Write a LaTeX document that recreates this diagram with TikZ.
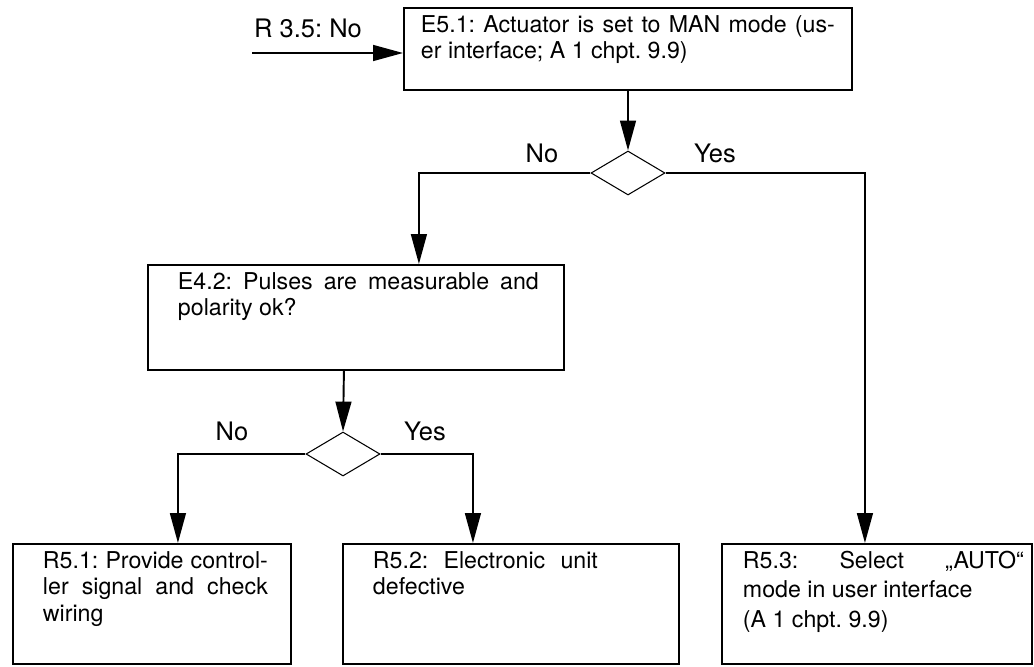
\documentclass[tikz,border=0pt]{standalone}
\usepackage{fontspec}
\setmainfont{TeX Gyre Heros}
\usepackage{tikz}
\usetikzlibrary{arrows.meta,positioning,calc,shapes.geometric}
\hyphenpenalty=10000
\frenchspacing
% text inside a box: box width, box height, left margin, text width, text
\newcommand{\boxpar}[5]{%
  \parbox[c][#2][t]{#1}{\vspace*{3pt}\hspace*{#3}\parbox[t]{#4}{\strut#5}}}
\tikzset{
  every picture/.style={x=0.02cm,y=-0.02cm},
  flowbox/.style={draw,line width=1.1pt,inner sep=0pt,anchor=north west,
    font=\fontsize{13.2}{15.3}\selectfont},
  decide/.style={draw,diamond,line width=0.6pt,inner sep=0pt,
    minimum width=1.48cm,minimum height=0.88cm},
  flow/.style={line width=1.1pt,-{Triangle[length=17pt,width=9pt]}},
  lbl/.style={anchor=base,inner sep=0pt,font=\fontsize{14.5}{17}\selectfont},
}

\begin{document}
\begin{tikzpicture}
  \useasboundingbox (0,0) rectangle (1034,666);
  % question boxes
  \node[flowbox] (e51) at (403,7)
    {\boxpar{8.96cm}{1.64cm}{0.34cm}{8.28cm}{E5.1: Actuator is set to MAN mode (us-\linebreak er interface; A 1 chpt. 9.9)}};
  \node[flowbox] (e42) at (147,264)
    {\boxpar{8.32cm}{2.10cm}{0.6cm}{7.22cm}{E4.2: Pulses are measurable and\linebreak polarity ok?}};
  % result boxes
  \node[flowbox] (r51) at (12,543)
    {\boxpar{5.56cm}{2.4cm}{0.6cm}{4.5cm}{R5.1: Provide control-\linebreak ler signal and check wiring}};
  \node[flowbox] (r52) at (342,543)
    {\boxpar{6.72cm}{2.4cm}{0.6cm}{4.5cm}{R5.2: Electronic unit\linebreak defective}};
  \node[flowbox] (r53) at (721,543)
    {\boxpar{6.2cm}{2.4cm}{0.42cm}{5.62cm}{\fontsize{13.2}{16.8}\selectfont R5.3: Select ,,AUTO``\linebreak mode in user interface\\(A 1 chpt. 9.9)}};
  % decisions
  \node[decide] (d1) at (628,173) {};
  \node[decide] (d2) at (343,454) {};
  % entry
  \coordinate (r35) at (252,53);
  \node[lbl] (r35lbl) at (308,37) {R 3.5: No};
  \draw[flow] (r35) -- (r35 -| e51.west);
  % first decision
  \draw[flow] (e51.south -| d1.north) -- (d1.north);
  \draw[flow] (d1.west) -| ([xshift=1.26cm]e42.north);
  \draw[flow] (d1.east) -| ([xshift=-0.24cm]r53.north);
  \node[lbl] (no1) at (542,162) {No};
  \node[lbl] (yes1) at (715,162) {Yes};
  % second decision
  \draw[flow] ([xshift=-0.24cm]e42.south) -- (d2.north);
  \draw[flow] (d2.west) -| ([xshift=0.52cm]r51.north);
  \draw[flow] (d2.east) -| ([xshift=-0.76cm]r52.north);
  \node[lbl] (no2) at (232,440) {No};
  \node[lbl] (yes2) at (425,440) {Yes};
\end{tikzpicture}
\end{document}
